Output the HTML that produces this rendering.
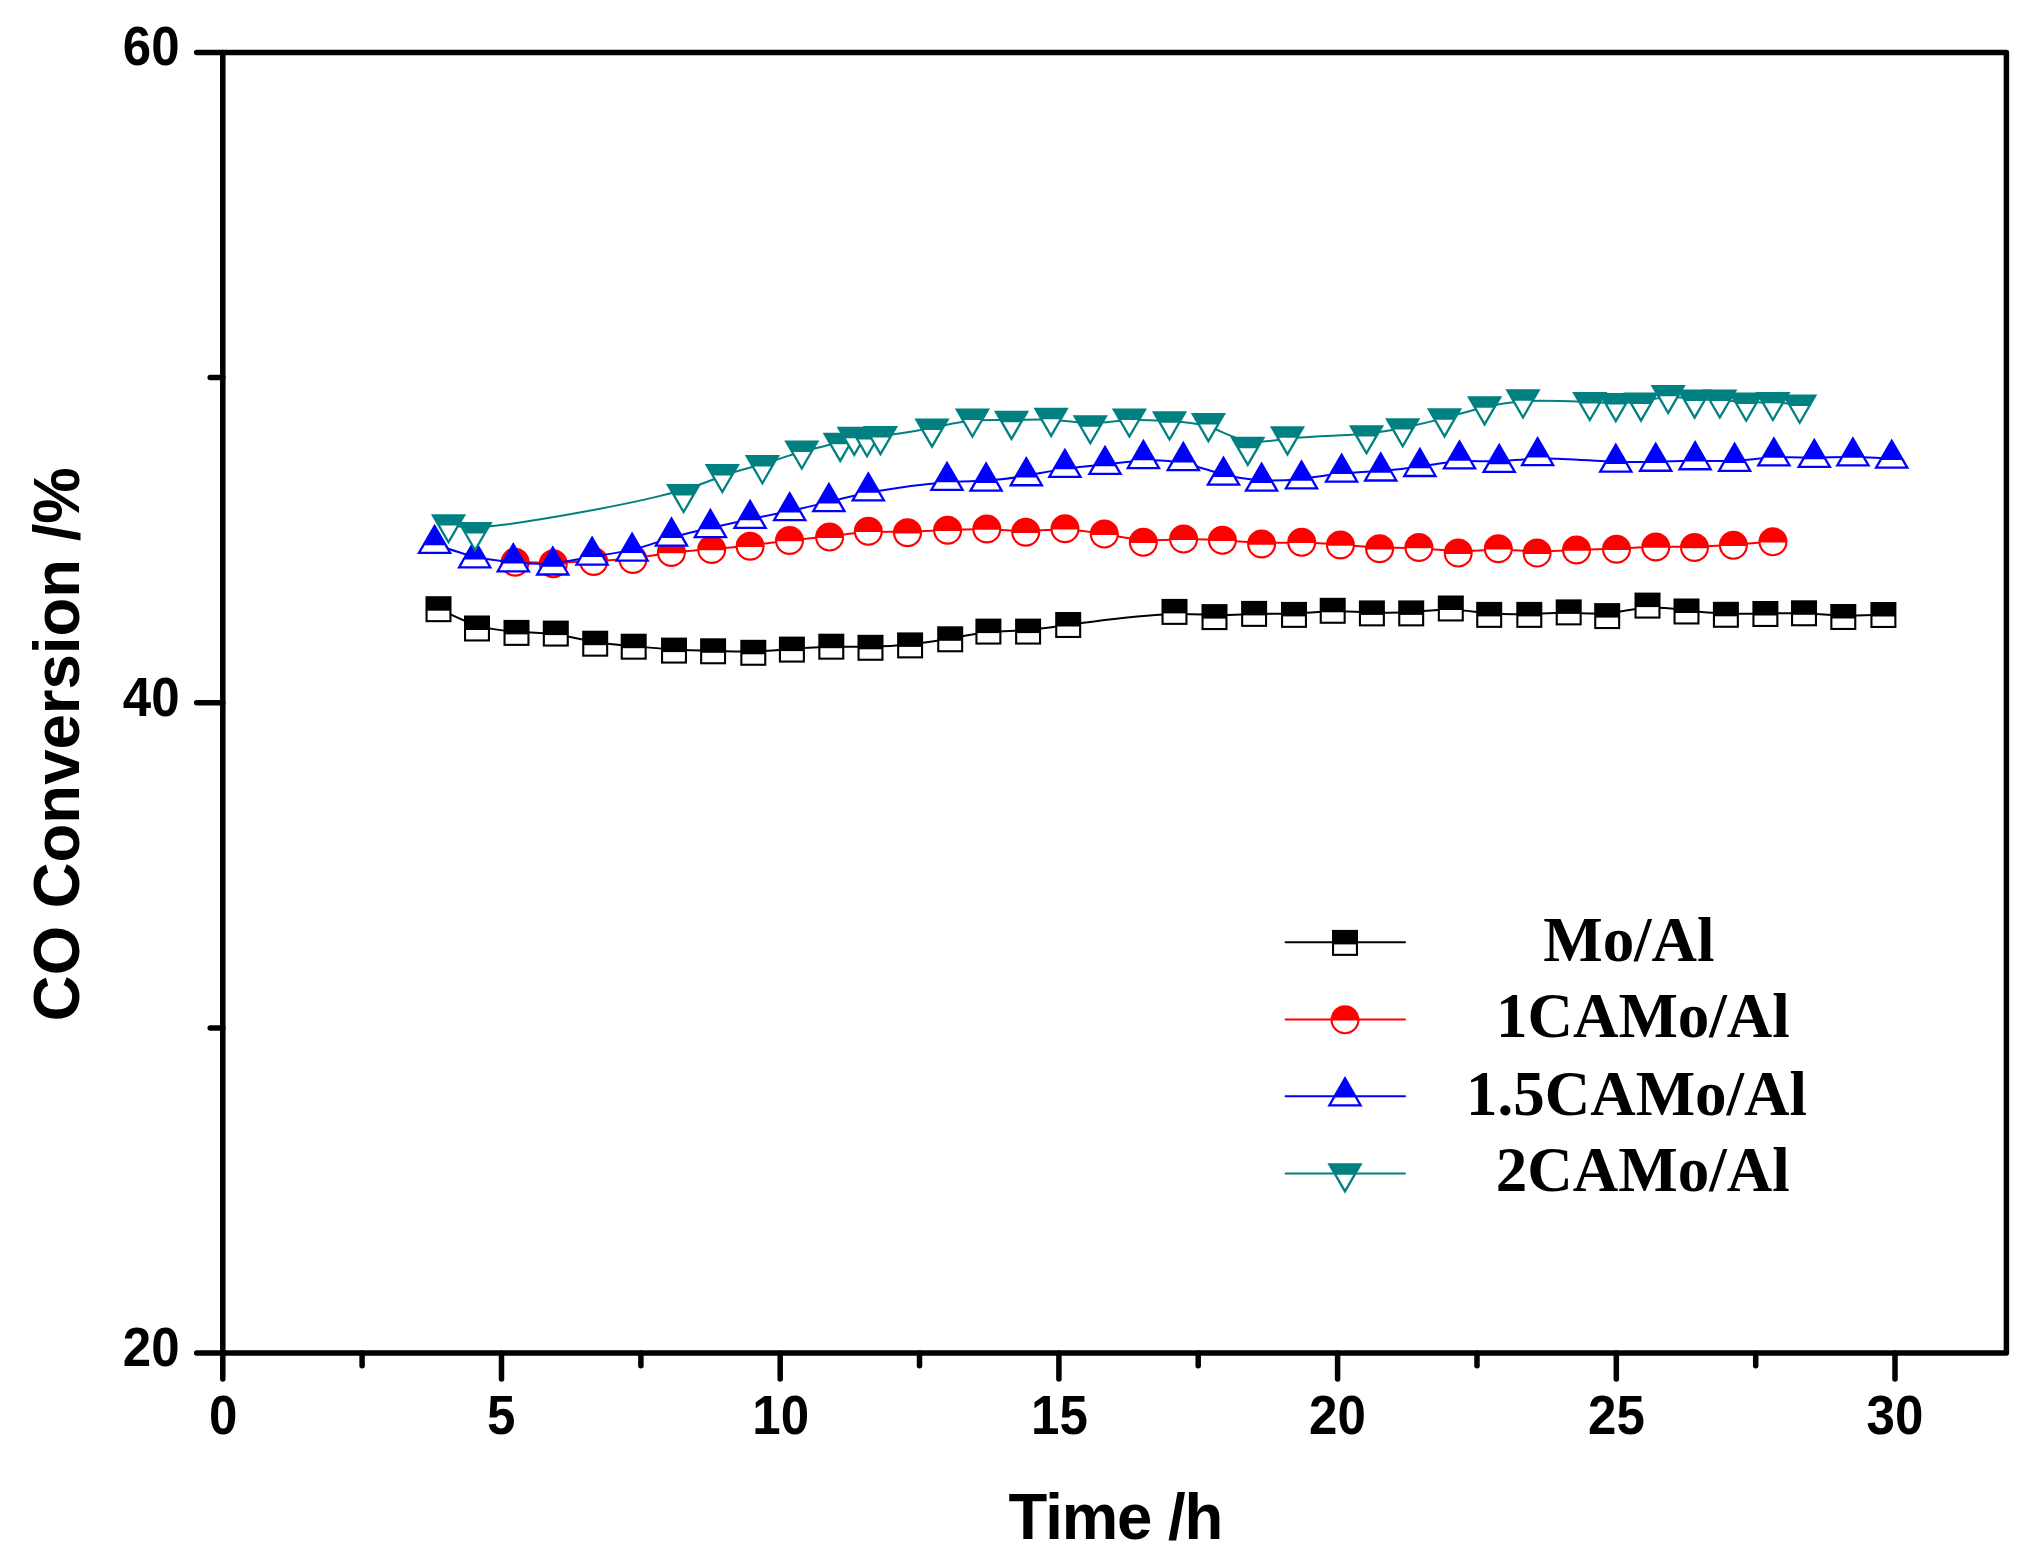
<!DOCTYPE html>
<html lang="en"><head><meta charset="utf-8"><title>CO Conversion vs Time</title>
<style>html,body{margin:0;padding:0;background:#fff}body{width:2031px;height:1560px;overflow:hidden}svg{display:block}</style>
</head><body>
<svg width="2031" height="1560" viewBox="0 0 2031 1560">
<rect width="2031" height="1560" fill="#fff"/>
<g>
<path d="M438.5 608.6 C451.3 615.0 464.2 621.5 477.2 625.4 C490.2 629.4 503.3 630.8 516.5 631.7 C529.6 632.5 542.7 632.8 555.8 634.6 C568.9 636.4 582.1 639.7 595.1 641.9 C608.0 644.1 620.9 645.1 634.0 646.2 C647.1 647.4 660.6 648.7 673.8 649.5 C687.0 650.2 700.1 650.5 713.3 650.8 C726.5 651.2 739.9 651.7 753.0 651.4 C766.2 651.1 779.0 650.1 792.0 649.0 C805.0 648.0 818.2 647.1 831.3 646.8 C844.4 646.5 857.4 646.8 870.6 646.6 C883.7 646.4 896.9 645.6 910.2 644.2 C923.5 642.8 936.8 640.7 949.9 638.4 C962.9 636.1 975.7 633.6 988.6 632.3 C1001.6 631.0 1014.9 631.0 1028.2 629.9 C1041.5 628.8 1054.8 626.6 1079.2 623.3 C1103.6 620.0 1139.1 615.7 1163.5 614.4 C1187.8 613.0 1201.2 614.8 1214.4 615.1 C1227.7 615.4 1240.9 614.4 1254.1 614.0 C1267.4 613.6 1280.7 614.0 1293.8 613.4 C1306.9 612.9 1319.8 611.6 1332.8 611.3 C1345.8 611.1 1358.8 611.9 1371.9 612.4 C1385.0 612.8 1398.1 612.8 1411.2 612.0 C1424.4 611.2 1437.6 609.5 1450.6 609.8 C1463.6 610.0 1476.4 612.2 1489.5 613.2 C1502.6 614.3 1515.9 614.3 1529.2 613.9 C1542.4 613.5 1555.6 612.6 1568.6 612.8 C1581.5 613.0 1594.4 614.3 1607.5 613.1 C1620.6 612.0 1634.1 608.5 1647.3 607.7 C1660.5 607.0 1673.5 608.9 1686.6 610.5 C1699.6 612.0 1712.8 613.1 1725.9 613.5 C1739.1 613.9 1752.2 613.7 1765.2 613.4 C1778.3 613.2 1791.1 612.9 1804.1 613.4 C1817.1 613.9 1830.2 615.2 1843.4 615.4 C1856.7 615.7 1870.0 615.1 1883.4 614.4" fill="none" stroke="#000" stroke-width="2.0" stroke-linejoin="round"/>
<rect x="425.50" y="596.20" width="26.00" height="26.00" fill="#000"/><rect x="427.60" y="610.70" width="21.80" height="9.40" fill="#fff"/>
<rect x="464.00" y="615.50" width="26.00" height="26.00" fill="#000"/><rect x="466.10" y="630.00" width="21.80" height="9.40" fill="#fff"/>
<rect x="503.50" y="619.90" width="26.00" height="26.00" fill="#000"/><rect x="505.60" y="634.40" width="21.80" height="9.40" fill="#fff"/>
<rect x="542.80" y="620.60" width="26.00" height="26.00" fill="#000"/><rect x="544.90" y="635.10" width="21.80" height="9.40" fill="#fff"/>
<rect x="582.20" y="630.70" width="26.00" height="26.00" fill="#000"/><rect x="584.30" y="645.20" width="21.80" height="9.40" fill="#fff"/>
<rect x="620.70" y="633.70" width="26.00" height="26.00" fill="#000"/><rect x="622.80" y="648.20" width="21.80" height="9.40" fill="#fff"/>
<rect x="661.00" y="637.60" width="26.00" height="26.00" fill="#000"/><rect x="663.10" y="652.10" width="21.80" height="9.40" fill="#fff"/>
<rect x="700.10" y="638.30" width="26.00" height="26.00" fill="#000"/><rect x="702.20" y="652.80" width="21.80" height="9.40" fill="#fff"/>
<rect x="740.30" y="639.80" width="26.00" height="26.00" fill="#000"/><rect x="742.40" y="654.30" width="21.80" height="9.40" fill="#fff"/>
<rect x="778.90" y="636.60" width="26.00" height="26.00" fill="#000"/><rect x="781.00" y="651.10" width="21.80" height="9.40" fill="#fff"/>
<rect x="818.30" y="633.70" width="26.00" height="26.00" fill="#000"/><rect x="820.40" y="648.20" width="21.80" height="9.40" fill="#fff"/>
<rect x="857.50" y="634.80" width="26.00" height="26.00" fill="#000"/><rect x="859.60" y="649.30" width="21.80" height="9.40" fill="#fff"/>
<rect x="897.10" y="632.40" width="26.00" height="26.00" fill="#000"/><rect x="899.20" y="646.90" width="21.80" height="9.40" fill="#fff"/>
<rect x="937.20" y="626.30" width="26.00" height="26.00" fill="#000"/><rect x="939.30" y="640.80" width="21.80" height="9.40" fill="#fff"/>
<rect x="975.40" y="618.60" width="26.00" height="26.00" fill="#000"/><rect x="977.50" y="633.10" width="21.80" height="9.40" fill="#fff"/>
<rect x="1015.10" y="618.60" width="26.00" height="26.00" fill="#000"/><rect x="1017.20" y="633.10" width="21.80" height="9.40" fill="#fff"/>
<rect x="1055.20" y="612.00" width="26.00" height="26.00" fill="#000"/><rect x="1057.30" y="626.50" width="21.80" height="9.40" fill="#fff"/>
<rect x="1161.50" y="598.90" width="26.00" height="26.00" fill="#000"/><rect x="1163.60" y="613.40" width="21.80" height="9.40" fill="#fff"/>
<rect x="1201.50" y="604.10" width="26.00" height="26.00" fill="#000"/><rect x="1203.60" y="618.60" width="21.80" height="9.40" fill="#fff"/>
<rect x="1241.10" y="600.90" width="26.00" height="26.00" fill="#000"/><rect x="1243.20" y="615.40" width="21.80" height="9.40" fill="#fff"/>
<rect x="1281.00" y="601.90" width="26.00" height="26.00" fill="#000"/><rect x="1283.10" y="616.40" width="21.80" height="9.40" fill="#fff"/>
<rect x="1319.70" y="597.80" width="26.00" height="26.00" fill="#000"/><rect x="1321.80" y="612.30" width="21.80" height="9.40" fill="#fff"/>
<rect x="1358.90" y="600.40" width="26.00" height="26.00" fill="#000"/><rect x="1361.00" y="614.90" width="21.80" height="9.40" fill="#fff"/>
<rect x="1398.20" y="600.40" width="26.00" height="26.00" fill="#000"/><rect x="1400.30" y="614.90" width="21.80" height="9.40" fill="#fff"/>
<rect x="1437.80" y="595.50" width="26.00" height="26.00" fill="#000"/><rect x="1439.90" y="610.00" width="21.80" height="9.40" fill="#fff"/>
<rect x="1476.20" y="601.90" width="26.00" height="26.00" fill="#000"/><rect x="1478.30" y="616.40" width="21.80" height="9.40" fill="#fff"/>
<rect x="1516.30" y="601.90" width="26.00" height="26.00" fill="#000"/><rect x="1518.40" y="616.40" width="21.80" height="9.40" fill="#fff"/>
<rect x="1555.70" y="599.40" width="26.00" height="26.00" fill="#000"/><rect x="1557.80" y="613.90" width="21.80" height="9.40" fill="#fff"/>
<rect x="1594.20" y="603.10" width="26.00" height="26.00" fill="#000"/><rect x="1596.30" y="617.60" width="21.80" height="9.40" fill="#fff"/>
<rect x="1634.50" y="592.60" width="26.00" height="26.00" fill="#000"/><rect x="1636.60" y="607.10" width="21.80" height="9.40" fill="#fff"/>
<rect x="1673.50" y="598.50" width="26.00" height="26.00" fill="#000"/><rect x="1675.60" y="613.00" width="21.80" height="9.40" fill="#fff"/>
<rect x="1712.90" y="601.80" width="26.00" height="26.00" fill="#000"/><rect x="1715.00" y="616.30" width="21.80" height="9.40" fill="#fff"/>
<rect x="1752.40" y="601.00" width="26.00" height="26.00" fill="#000"/><rect x="1754.50" y="615.50" width="21.80" height="9.40" fill="#fff"/>
<rect x="1791.00" y="600.30" width="26.00" height="26.00" fill="#000"/><rect x="1793.10" y="614.80" width="21.80" height="9.40" fill="#fff"/>
<rect x="1830.30" y="604.00" width="26.00" height="26.00" fill="#000"/><rect x="1832.40" y="618.50" width="21.80" height="9.40" fill="#fff"/>
<rect x="1870.40" y="602.00" width="26.00" height="26.00" fill="#000"/><rect x="1872.50" y="616.50" width="21.80" height="9.40" fill="#fff"/>
</g>
<g>
<path d="M515.1 561.8 C527.8 562.3 540.6 562.9 553.7 562.7 C566.8 562.6 580.2 561.8 593.5 561.1 C606.8 560.4 619.8 559.7 632.8 558.2 C645.7 556.8 658.6 554.4 671.7 552.8 C684.8 551.1 698.3 550.0 711.4 549.0 C724.5 547.9 737.3 546.9 750.3 545.4 C763.2 543.9 776.4 542.0 789.6 540.5 C802.9 539.0 816.2 537.8 829.4 536.3 C842.5 534.8 855.4 532.8 868.4 532.1 C881.4 531.4 894.4 531.8 907.7 531.7 C920.9 531.5 934.2 530.6 947.4 530.0 C960.7 529.4 973.7 529.0 986.8 529.3 C999.8 529.7 1012.7 530.7 1025.8 530.7 C1038.8 530.6 1051.9 529.5 1065.0 529.8 C1078.1 530.1 1091.2 531.9 1104.2 534.2 C1117.3 536.4 1130.3 539.2 1143.5 540.0 C1156.7 540.8 1170.2 539.8 1183.4 539.4 C1196.5 539.1 1209.5 539.5 1222.5 540.3 C1235.5 541.1 1248.5 542.4 1261.7 542.7 C1275.0 543.0 1288.3 542.5 1301.5 542.6 C1314.6 542.8 1327.5 543.7 1340.5 544.8 C1353.5 545.8 1366.5 547.1 1379.6 547.5 C1392.7 547.9 1405.8 547.4 1418.9 548.2 C1432.0 548.9 1445.1 550.8 1458.3 551.0 C1471.6 551.2 1484.9 549.8 1498.1 549.8 C1511.2 549.8 1524.2 551.2 1537.2 551.4 C1550.2 551.6 1563.4 550.6 1576.6 549.9 C1589.8 549.3 1603.2 549.0 1616.4 548.6 C1629.6 548.1 1642.7 547.3 1655.7 547.1 C1668.7 546.8 1681.6 546.9 1694.5 546.6 C1707.5 546.4 1720.4 545.6 1733.5 544.7 C1746.6 543.7 1759.8 542.6 1773.0 541.4" fill="none" stroke="#f00" stroke-width="2.0" stroke-linejoin="round"/>
<circle cx="515.10" cy="562.20" r="14.50" fill="#f00"/><path d="M502.73 563.00 A12.40 12.40 0 0 0 527.47 563.00 Z" fill="#fff"/>
<circle cx="553.30" cy="563.80" r="14.50" fill="#f00"/><path d="M540.93 564.60 A12.40 12.40 0 0 0 565.67 564.60 Z" fill="#fff"/>
<circle cx="593.70" cy="561.40" r="14.50" fill="#f00"/><path d="M581.33 562.20 A12.40 12.40 0 0 0 606.07 562.20 Z" fill="#fff"/>
<circle cx="632.90" cy="559.50" r="14.50" fill="#f00"/><path d="M620.53 560.30 A12.40 12.40 0 0 0 645.27 560.30 Z" fill="#fff"/>
<circle cx="671.40" cy="552.50" r="14.50" fill="#f00"/><path d="M659.03 553.30 A12.40 12.40 0 0 0 683.77 553.30 Z" fill="#fff"/>
<circle cx="711.70" cy="549.40" r="14.50" fill="#f00"/><path d="M699.33 550.20 A12.40 12.40 0 0 0 724.07 550.20 Z" fill="#fff"/>
<circle cx="750.10" cy="546.20" r="14.50" fill="#f00"/><path d="M737.73 547.00 A12.40 12.40 0 0 0 762.47 547.00 Z" fill="#fff"/>
<circle cx="789.50" cy="540.50" r="14.50" fill="#f00"/><path d="M777.13 541.30 A12.40 12.40 0 0 0 801.87 541.30 Z" fill="#fff"/>
<circle cx="829.60" cy="537.10" r="14.50" fill="#f00"/><path d="M817.23 537.90 A12.40 12.40 0 0 0 841.97 537.90 Z" fill="#fff"/>
<circle cx="868.30" cy="531.30" r="14.50" fill="#f00"/><path d="M855.93 532.10 A12.40 12.40 0 0 0 880.67 532.10 Z" fill="#fff"/>
<circle cx="907.50" cy="532.70" r="14.50" fill="#f00"/><path d="M895.13 533.50 A12.40 12.40 0 0 0 919.87 533.50 Z" fill="#fff"/>
<circle cx="947.60" cy="530.20" r="14.50" fill="#f00"/><path d="M935.23 531.00 A12.40 12.40 0 0 0 959.97 531.00 Z" fill="#fff"/>
<circle cx="986.80" cy="529.00" r="14.50" fill="#f00"/><path d="M974.43 529.80 A12.40 12.40 0 0 0 999.17 529.80 Z" fill="#fff"/>
<circle cx="1025.70" cy="532.20" r="14.50" fill="#f00"/><path d="M1013.33 533.00 A12.40 12.40 0 0 0 1038.07 533.00 Z" fill="#fff"/>
<circle cx="1065.00" cy="528.70" r="14.50" fill="#f00"/><path d="M1052.63 529.50 A12.40 12.40 0 0 0 1077.37 529.50 Z" fill="#fff"/>
<circle cx="1104.30" cy="534.10" r="14.50" fill="#f00"/><path d="M1091.93 534.90 A12.40 12.40 0 0 0 1116.67 534.90 Z" fill="#fff"/>
<circle cx="1143.30" cy="542.30" r="14.50" fill="#f00"/><path d="M1130.93 543.10 A12.40 12.40 0 0 0 1155.67 543.10 Z" fill="#fff"/>
<circle cx="1183.60" cy="539.10" r="14.50" fill="#f00"/><path d="M1171.23 539.90 A12.40 12.40 0 0 0 1195.97 539.90 Z" fill="#fff"/>
<circle cx="1222.40" cy="540.30" r="14.50" fill="#f00"/><path d="M1210.03 541.10 A12.40 12.40 0 0 0 1234.77 541.10 Z" fill="#fff"/>
<circle cx="1261.60" cy="544.00" r="14.50" fill="#f00"/><path d="M1249.23 544.80 A12.40 12.40 0 0 0 1273.97 544.80 Z" fill="#fff"/>
<circle cx="1301.70" cy="542.30" r="14.50" fill="#f00"/><path d="M1289.33 543.10 A12.40 12.40 0 0 0 1314.07 543.10 Z" fill="#fff"/>
<circle cx="1340.40" cy="545.00" r="14.50" fill="#f00"/><path d="M1328.03 545.80 A12.40 12.40 0 0 0 1352.77 545.80 Z" fill="#fff"/>
<circle cx="1379.60" cy="548.70" r="14.50" fill="#f00"/><path d="M1367.23 549.50 A12.40 12.40 0 0 0 1391.97 549.50 Z" fill="#fff"/>
<circle cx="1418.90" cy="547.40" r="14.50" fill="#f00"/><path d="M1406.53 548.20 A12.40 12.40 0 0 0 1431.27 548.20 Z" fill="#fff"/>
<circle cx="1458.20" cy="553.10" r="14.50" fill="#f00"/><path d="M1445.83 553.90 A12.40 12.40 0 0 0 1470.57 553.90 Z" fill="#fff"/>
<circle cx="1498.30" cy="548.70" r="14.50" fill="#f00"/><path d="M1485.93 549.50 A12.40 12.40 0 0 0 1510.67 549.50 Z" fill="#fff"/>
<circle cx="1537.10" cy="553.10" r="14.50" fill="#f00"/><path d="M1524.73 553.90 A12.40 12.40 0 0 0 1549.47 553.90 Z" fill="#fff"/>
<circle cx="1576.50" cy="549.90" r="14.50" fill="#f00"/><path d="M1564.13 550.70 A12.40 12.40 0 0 0 1588.87 550.70 Z" fill="#fff"/>
<circle cx="1616.50" cy="549.20" r="14.50" fill="#f00"/><path d="M1604.13 550.00 A12.40 12.40 0 0 0 1628.87 550.00 Z" fill="#fff"/>
<circle cx="1655.80" cy="547.00" r="14.50" fill="#f00"/><path d="M1643.43 547.80 A12.40 12.40 0 0 0 1668.17 547.80 Z" fill="#fff"/>
<circle cx="1694.50" cy="547.50" r="14.50" fill="#f00"/><path d="M1682.13 548.30 A12.40 12.40 0 0 0 1706.87 548.30 Z" fill="#fff"/>
<circle cx="1733.40" cy="545.30" r="14.50" fill="#f00"/><path d="M1721.03 546.10 A12.40 12.40 0 0 0 1745.77 546.10 Z" fill="#fff"/>
<circle cx="1773.00" cy="541.80" r="14.50" fill="#f00"/><path d="M1760.63 542.60 A12.40 12.40 0 0 0 1785.37 542.60 Z" fill="#fff"/>
</g>
<g>
<path d="M434.6 543.9 C448.0 548.7 461.3 553.5 474.4 556.6 C487.6 559.6 500.4 561.0 513.4 562.2 C526.5 563.4 539.6 564.4 552.8 563.3 C565.9 562.2 579.0 558.9 592.2 556.6 C605.4 554.3 618.8 553.0 632.0 549.9 C645.2 546.7 658.4 541.6 671.4 537.7 C684.5 533.8 697.4 530.9 710.5 528.0 C723.6 525.0 736.9 522.0 750.1 519.2 C763.3 516.4 776.5 513.8 789.6 511.0 C802.8 508.2 815.8 505.2 828.9 501.9 C842.0 498.6 855.2 495.0 874.8 491.5 C894.5 488.0 920.8 484.5 940.4 482.8 C960.0 481.2 973.1 481.4 986.3 480.6 C999.5 479.8 1012.9 478.1 1026.0 475.8 C1039.2 473.5 1052.0 470.7 1065.2 468.8 C1078.3 466.9 1091.6 466.0 1104.7 464.5 C1117.8 463.0 1130.6 461.0 1143.7 460.4 C1156.7 459.8 1170.0 460.4 1183.4 463.2 C1196.7 466.0 1210.1 470.8 1223.1 474.3 C1236.2 477.7 1248.9 479.7 1261.9 480.3 C1274.9 481.0 1288.2 480.2 1301.5 478.7 C1314.9 477.2 1328.2 475.0 1341.4 473.6 C1354.6 472.3 1367.7 471.9 1380.7 471.0 C1393.8 470.0 1406.8 468.5 1420.0 466.5 C1433.1 464.5 1446.3 462.0 1459.5 461.3 C1472.7 460.6 1486.0 461.8 1499.0 461.2 C1512.0 460.7 1524.8 458.5 1544.2 458.4 C1563.7 458.4 1589.7 460.5 1609.4 461.4 C1629.1 462.4 1642.4 462.1 1655.6 461.7 C1668.8 461.3 1682.0 460.8 1695.1 460.8 C1708.3 460.8 1721.4 461.3 1734.6 460.7 C1747.7 460.0 1760.8 458.2 1774.1 457.6 C1787.4 456.9 1800.8 457.5 1814.0 457.5 C1827.2 457.5 1840.0 457.0 1852.9 457.1 C1865.8 457.2 1878.8 457.9 1891.7 458.7" fill="none" stroke="#00f" stroke-width="2.0" stroke-linejoin="round"/>
<path d="M434.60 523.65 L452.20 554.05 L417.00 554.05 Z" fill="#00f"/><path d="M424.77 545.22 L444.43 545.22 L448.21 551.75 L420.99 551.75 Z" fill="#fff"/>
<path d="M474.70 538.05 L492.30 568.45 L457.10 568.45 Z" fill="#00f"/><path d="M464.87 559.62 L484.53 559.62 L488.31 566.15 L461.09 566.15 Z" fill="#fff"/>
<path d="M513.30 542.05 L530.90 572.45 L495.70 572.45 Z" fill="#00f"/><path d="M503.47 563.62 L523.13 563.62 L526.91 570.15 L499.69 570.15 Z" fill="#fff"/>
<path d="M552.80 545.25 L570.40 575.65 L535.20 575.65 Z" fill="#00f"/><path d="M542.97 566.82 L562.63 566.82 L566.41 573.35 L539.19 573.35 Z" fill="#fff"/>
<path d="M592.10 535.40 L609.70 565.80 L574.50 565.80 Z" fill="#00f"/><path d="M582.27 556.97 L601.93 556.97 L605.71 563.50 L578.49 563.50 Z" fill="#fff"/>
<path d="M632.10 531.45 L649.70 561.85 L614.50 561.85 Z" fill="#00f"/><path d="M622.27 553.02 L641.93 553.02 L645.71 559.55 L618.49 559.55 Z" fill="#fff"/>
<path d="M671.50 516.35 L689.10 546.75 L653.90 546.75 Z" fill="#00f"/><path d="M661.67 537.92 L681.33 537.92 L685.11 544.45 L657.89 544.45 Z" fill="#fff"/>
<path d="M710.40 507.80 L728.00 538.20 L692.80 538.20 Z" fill="#00f"/><path d="M700.57 529.37 L720.23 529.37 L724.01 535.90 L696.79 535.90 Z" fill="#fff"/>
<path d="M750.10 498.70 L767.70 529.10 L732.50 529.10 Z" fill="#00f"/><path d="M740.27 520.27 L759.93 520.27 L763.71 526.80 L736.49 526.80 Z" fill="#fff"/>
<path d="M789.70 490.95 L807.30 521.35 L772.10 521.35 Z" fill="#00f"/><path d="M779.87 512.52 L799.53 512.52 L803.31 519.05 L776.09 519.05 Z" fill="#fff"/>
<path d="M828.90 481.85 L846.50 512.25 L811.30 512.25 Z" fill="#00f"/><path d="M819.07 503.42 L838.73 503.42 L842.51 509.95 L815.29 509.95 Z" fill="#fff"/>
<path d="M868.30 471.20 L885.90 501.60 L850.70 501.60 Z" fill="#00f"/><path d="M858.47 492.77 L878.13 492.77 L881.91 499.30 L854.69 499.30 Z" fill="#fff"/>
<path d="M947.00 460.70 L964.60 491.10 L929.40 491.10 Z" fill="#00f"/><path d="M937.17 482.27 L956.83 482.27 L960.61 488.80 L933.39 488.80 Z" fill="#fff"/>
<path d="M986.10 461.35 L1003.70 491.75 L968.50 491.75 Z" fill="#00f"/><path d="M976.27 482.92 L995.93 482.92 L999.71 489.45 L972.49 489.45 Z" fill="#fff"/>
<path d="M1026.30 456.00 L1043.90 486.40 L1008.70 486.40 Z" fill="#00f"/><path d="M1016.47 477.57 L1036.13 477.57 L1039.91 484.10 L1012.69 484.10 Z" fill="#fff"/>
<path d="M1064.90 447.65 L1082.50 478.05 L1047.30 478.05 Z" fill="#00f"/><path d="M1055.07 469.22 L1074.73 469.22 L1078.51 475.75 L1051.29 475.75 Z" fill="#fff"/>
<path d="M1105.00 444.70 L1122.60 475.10 L1087.40 475.10 Z" fill="#00f"/><path d="M1095.17 466.27 L1114.83 466.27 L1118.61 472.80 L1091.39 472.80 Z" fill="#fff"/>
<path d="M1143.40 438.80 L1161.00 469.20 L1125.80 469.20 Z" fill="#00f"/><path d="M1133.57 460.37 L1153.23 460.37 L1157.01 466.90 L1129.79 466.90 Z" fill="#fff"/>
<path d="M1183.30 440.85 L1200.90 471.25 L1165.70 471.25 Z" fill="#00f"/><path d="M1173.47 462.42 L1193.13 462.42 L1196.91 468.95 L1169.69 468.95 Z" fill="#fff"/>
<path d="M1223.50 455.45 L1241.10 485.85 L1205.90 485.85 Z" fill="#00f"/><path d="M1213.67 477.02 L1233.33 477.02 L1237.11 483.55 L1209.89 483.55 Z" fill="#fff"/>
<path d="M1261.60 461.45 L1279.20 491.85 L1244.00 491.85 Z" fill="#00f"/><path d="M1251.77 483.02 L1271.43 483.02 L1275.21 489.55 L1247.99 489.55 Z" fill="#fff"/>
<path d="M1301.50 459.20 L1319.10 489.60 L1283.90 489.60 Z" fill="#00f"/><path d="M1291.67 480.77 L1311.33 480.77 L1315.11 487.30 L1287.89 487.30 Z" fill="#fff"/>
<path d="M1341.60 452.45 L1359.20 482.85 L1324.00 482.85 Z" fill="#00f"/><path d="M1331.77 474.02 L1351.43 474.02 L1355.21 480.55 L1327.99 480.55 Z" fill="#fff"/>
<path d="M1380.70 451.25 L1398.30 481.65 L1363.10 481.65 Z" fill="#00f"/><path d="M1370.87 472.82 L1390.53 472.82 L1394.31 479.35 L1367.09 479.35 Z" fill="#fff"/>
<path d="M1419.90 446.75 L1437.50 477.15 L1402.30 477.15 Z" fill="#00f"/><path d="M1410.07 468.32 L1429.73 468.32 L1433.51 474.85 L1406.29 474.85 Z" fill="#fff"/>
<path d="M1459.50 439.15 L1477.10 469.55 L1441.90 469.55 Z" fill="#00f"/><path d="M1449.67 460.72 L1469.33 460.72 L1473.11 467.25 L1445.89 467.25 Z" fill="#fff"/>
<path d="M1499.20 442.70 L1516.80 473.10 L1481.60 473.10 Z" fill="#00f"/><path d="M1489.37 464.27 L1509.03 464.27 L1512.81 470.80 L1485.59 470.80 Z" fill="#fff"/>
<path d="M1537.60 435.95 L1555.20 466.35 L1520.00 466.35 Z" fill="#00f"/><path d="M1527.77 457.52 L1547.43 457.52 L1551.21 464.05 L1523.99 464.05 Z" fill="#fff"/>
<path d="M1615.80 442.40 L1633.40 472.80 L1598.20 472.80 Z" fill="#00f"/><path d="M1605.97 463.97 L1625.63 463.97 L1629.41 470.50 L1602.19 470.50 Z" fill="#fff"/>
<path d="M1655.70 441.50 L1673.30 471.90 L1638.10 471.90 Z" fill="#00f"/><path d="M1645.87 463.07 L1665.53 463.07 L1669.31 469.60 L1642.09 469.60 Z" fill="#fff"/>
<path d="M1695.10 440.00 L1712.70 470.40 L1677.50 470.40 Z" fill="#00f"/><path d="M1685.27 461.57 L1704.93 461.57 L1708.71 468.10 L1681.49 468.10 Z" fill="#fff"/>
<path d="M1734.60 441.55 L1752.20 471.95 L1717.00 471.95 Z" fill="#00f"/><path d="M1724.77 463.12 L1744.43 463.12 L1748.21 469.65 L1720.99 469.65 Z" fill="#fff"/>
<path d="M1773.90 436.15 L1791.50 466.55 L1756.30 466.55 Z" fill="#00f"/><path d="M1764.07 457.72 L1783.73 457.72 L1787.51 464.25 L1760.29 464.25 Z" fill="#fff"/>
<path d="M1814.30 437.70 L1831.90 468.10 L1796.70 468.10 Z" fill="#00f"/><path d="M1804.47 459.27 L1824.13 459.27 L1827.91 465.80 L1800.69 465.80 Z" fill="#fff"/>
<path d="M1852.90 436.20 L1870.50 466.60 L1835.30 466.60 Z" fill="#00f"/><path d="M1843.07 457.77 L1862.73 457.77 L1866.51 464.30 L1839.29 464.30 Z" fill="#fff"/>
<path d="M1891.70 438.40 L1909.30 468.80 L1874.10 468.80 Z" fill="#00f"/><path d="M1881.87 459.97 L1901.53 459.97 L1905.31 466.50 L1878.09 466.50 Z" fill="#fff"/>
</g>
<g>
<path d="M448.5 524.3 C457.4 526.9 466.2 529.5 505.4 524.5 C544.6 519.4 614.1 506.8 655.3 497.1 C696.5 487.4 709.4 480.8 722.5 475.9 C735.7 471.1 749.0 468.2 762.3 464.3 C775.5 460.3 788.7 455.5 801.6 451.8 C814.6 448.0 827.4 445.5 836.1 443.2 C844.9 440.9 849.5 438.9 854.0 438.1 C858.5 437.4 862.7 437.8 867.1 437.7 C871.5 437.5 876.0 436.9 886.8 435.3 C897.7 433.7 914.8 431.1 930.1 428.2 C945.5 425.3 958.9 421.9 972.2 420.6 C985.4 419.3 998.5 420.1 1011.6 420.0 C1024.7 419.9 1037.9 418.9 1051.0 419.7 C1064.2 420.4 1077.2 422.9 1090.3 423.0 C1103.3 423.1 1116.4 420.8 1129.6 420.2 C1142.8 419.5 1156.1 420.5 1169.3 421.3 C1182.5 422.0 1195.4 422.6 1208.5 426.8 C1221.5 431.0 1234.7 439.0 1247.9 441.2 C1261.0 443.4 1274.3 439.9 1294.0 438.0 C1313.8 436.1 1340.2 435.7 1359.4 434.3 C1378.6 432.9 1390.6 430.6 1403.6 427.8 C1416.6 425.0 1430.6 421.7 1444.2 418.1 C1457.9 414.4 1471.2 410.4 1484.3 407.2 C1497.4 404.1 1510.2 401.8 1527.7 401.1 C1545.3 400.3 1567.5 401.2 1583.0 401.8 C1598.5 402.4 1607.1 402.8 1615.7 402.9 C1624.2 403.0 1632.6 402.8 1641.3 401.5 C1650.1 400.1 1659.1 397.6 1668.1 397.1 C1677.0 396.6 1685.8 398.1 1694.4 398.9 C1703.0 399.7 1711.4 399.6 1720.0 400.1 C1728.6 400.6 1737.4 401.7 1746.2 402.1 C1755.1 402.5 1764.0 402.3 1772.9 402.6 C1781.8 402.9 1790.8 403.8 1799.7 404.7" fill="none" stroke="#008080" stroke-width="2.0" stroke-linejoin="round"/>
<path d="M430.90 514.15 L466.10 514.15 L448.50 544.55 Z" fill="#008080"/><path d="M440.18 525.58 L456.82 525.58 L448.50 539.95 Z" fill="#fff"/>
<path d="M457.50 521.95 L492.70 521.95 L475.10 552.35 Z" fill="#008080"/><path d="M466.78 533.38 L483.42 533.38 L475.10 547.75 Z" fill="#fff"/>
<path d="M666.00 483.95 L701.20 483.95 L683.60 514.35 Z" fill="#008080"/><path d="M675.28 495.38 L691.92 495.38 L683.60 509.75 Z" fill="#fff"/>
<path d="M704.70 463.95 L739.90 463.95 L722.30 494.35 Z" fill="#008080"/><path d="M713.98 475.38 L730.62 475.38 L722.30 489.75 Z" fill="#fff"/>
<path d="M744.80 455.10 L780.00 455.10 L762.40 485.50 Z" fill="#008080"/><path d="M754.08 466.53 L770.72 466.53 L762.40 480.90 Z" fill="#fff"/>
<path d="M784.20 440.45 L819.40 440.45 L801.80 470.85 Z" fill="#008080"/><path d="M793.48 451.88 L810.12 451.88 L801.80 466.25 Z" fill="#fff"/>
<path d="M822.60 432.80 L857.80 432.80 L840.20 463.20 Z" fill="#008080"/><path d="M831.88 444.23 L848.52 444.23 L840.20 458.60 Z" fill="#fff"/>
<path d="M836.60 426.80 L871.80 426.80 L854.20 457.20 Z" fill="#008080"/><path d="M845.88 438.23 L862.52 438.23 L854.20 452.60 Z" fill="#fff"/>
<path d="M849.40 428.10 L884.60 428.10 L867.00 458.50 Z" fill="#008080"/><path d="M858.68 439.53 L875.32 439.53 L867.00 453.90 Z" fill="#fff"/>
<path d="M862.90 426.05 L898.10 426.05 L880.50 456.45 Z" fill="#008080"/><path d="M872.18 437.48 L888.82 437.48 L880.50 451.85 Z" fill="#fff"/>
<path d="M914.40 418.50 L949.60 418.50 L932.00 448.90 Z" fill="#008080"/><path d="M923.68 429.93 L940.32 429.93 L932.00 444.30 Z" fill="#fff"/>
<path d="M954.80 408.45 L990.00 408.45 L972.40 438.85 Z" fill="#008080"/><path d="M964.08 419.88 L980.72 419.88 L972.40 434.25 Z" fill="#fff"/>
<path d="M993.90 410.75 L1029.10 410.75 L1011.50 441.15 Z" fill="#008080"/><path d="M1003.18 422.18 L1019.82 422.18 L1011.50 436.55 Z" fill="#fff"/>
<path d="M1033.50 407.80 L1068.70 407.80 L1051.10 438.20 Z" fill="#008080"/><path d="M1042.78 419.23 L1059.42 419.23 L1051.10 433.60 Z" fill="#fff"/>
<path d="M1072.70 415.20 L1107.90 415.20 L1090.30 445.60 Z" fill="#008080"/><path d="M1081.98 426.63 L1098.62 426.63 L1090.30 441.00 Z" fill="#fff"/>
<path d="M1111.80 408.45 L1147.00 408.45 L1129.40 438.85 Z" fill="#008080"/><path d="M1121.08 419.88 L1137.72 419.88 L1129.40 434.25 Z" fill="#fff"/>
<path d="M1151.90 411.35 L1187.10 411.35 L1169.50 441.75 Z" fill="#008080"/><path d="M1161.18 422.78 L1177.82 422.78 L1169.50 437.15 Z" fill="#fff"/>
<path d="M1190.80 413.00 L1226.00 413.00 L1208.40 443.40 Z" fill="#008080"/><path d="M1200.08 424.43 L1216.72 424.43 L1208.40 438.80 Z" fill="#fff"/>
<path d="M1230.20 436.75 L1265.40 436.75 L1247.80 467.15 Z" fill="#008080"/><path d="M1239.48 448.18 L1256.12 448.18 L1247.80 462.55 Z" fill="#fff"/>
<path d="M1269.90 426.30 L1305.10 426.30 L1287.50 456.70 Z" fill="#008080"/><path d="M1279.18 437.73 L1295.82 437.73 L1287.50 452.10 Z" fill="#fff"/>
<path d="M1348.90 425.15 L1384.10 425.15 L1366.50 455.55 Z" fill="#008080"/><path d="M1358.18 436.58 L1374.82 436.58 L1366.50 450.95 Z" fill="#fff"/>
<path d="M1385.10 418.15 L1420.30 418.15 L1402.70 448.55 Z" fill="#008080"/><path d="M1394.38 429.58 L1411.02 429.58 L1402.70 443.95 Z" fill="#fff"/>
<path d="M1426.90 408.30 L1462.10 408.30 L1444.50 438.70 Z" fill="#008080"/><path d="M1436.18 419.73 L1452.82 419.73 L1444.50 434.10 Z" fill="#fff"/>
<path d="M1467.00 396.25 L1502.20 396.25 L1484.60 426.65 Z" fill="#008080"/><path d="M1476.28 407.68 L1492.92 407.68 L1484.60 422.05 Z" fill="#fff"/>
<path d="M1505.40 389.35 L1540.60 389.35 L1523.00 419.75 Z" fill="#008080"/><path d="M1514.68 400.78 L1531.32 400.78 L1523.00 415.15 Z" fill="#fff"/>
<path d="M1572.20 391.95 L1607.40 391.95 L1589.80 422.35 Z" fill="#008080"/><path d="M1581.48 403.38 L1598.12 403.38 L1589.80 417.75 Z" fill="#fff"/>
<path d="M1598.20 393.05 L1633.40 393.05 L1615.80 423.45 Z" fill="#008080"/><path d="M1607.48 404.48 L1624.12 404.48 L1615.80 418.85 Z" fill="#fff"/>
<path d="M1623.40 392.50 L1658.60 392.50 L1641.00 422.90 Z" fill="#008080"/><path d="M1632.68 403.93 L1649.32 403.93 L1641.00 418.30 Z" fill="#fff"/>
<path d="M1650.60 384.90 L1685.80 384.90 L1668.20 415.30 Z" fill="#008080"/><path d="M1659.88 396.33 L1676.52 396.33 L1668.20 410.70 Z" fill="#fff"/>
<path d="M1677.00 389.55 L1712.20 389.55 L1694.60 419.95 Z" fill="#008080"/><path d="M1686.28 400.98 L1702.92 400.98 L1694.60 415.35 Z" fill="#fff"/>
<path d="M1702.20 389.45 L1737.40 389.45 L1719.80 419.85 Z" fill="#008080"/><path d="M1711.48 400.88 L1728.12 400.88 L1719.80 415.25 Z" fill="#fff"/>
<path d="M1728.60 392.60 L1763.80 392.60 L1746.20 423.00 Z" fill="#008080"/><path d="M1737.88 404.03 L1754.52 404.03 L1746.20 418.40 Z" fill="#fff"/>
<path d="M1755.30 391.90 L1790.50 391.90 L1772.90 422.30 Z" fill="#008080"/><path d="M1764.58 403.33 L1781.22 403.33 L1772.90 417.70 Z" fill="#fff"/>
<path d="M1782.10 394.60 L1817.30 394.60 L1799.70 425.00 Z" fill="#008080"/><path d="M1791.38 406.03 L1808.02 406.03 L1799.70 420.40 Z" fill="#fff"/>
</g>
<g stroke="#000" stroke-width="5.5" stroke-linecap="round" fill="none">
<path d="M222.8 52.5 H2006.4 V1353.0 H222.8 Z" stroke-linejoin="round"/>
<path d="M222.8 1353.0 V1379.0"/>
<path d="M501.5 1353.0 V1379.0"/>
<path d="M780.2 1353.0 V1379.0"/>
<path d="M1058.9 1353.0 V1379.0"/>
<path d="M1337.6 1353.0 V1379.0"/>
<path d="M1616.3 1353.0 V1379.0"/>
<path d="M1895.0 1353.0 V1379.0"/>
<path d="M362.1 1353.0 V1365.8"/>
<path d="M640.9 1353.0 V1365.8"/>
<path d="M919.5 1353.0 V1365.8"/>
<path d="M1198.2 1353.0 V1365.8"/>
<path d="M1477.0 1353.0 V1365.8"/>
<path d="M1755.7 1353.0 V1365.8"/>
<path d="M222.8 1353.0 H196.7"/>
<path d="M222.8 702.8 H196.7"/>
<path d="M222.8 52.5 H196.7"/>
<path d="M222.8 1027.9 H210.2"/>
<path d="M222.8 377.6 H210.2"/>
</g>
<g font-family="'Liberation Sans', Arial, sans-serif" font-weight="bold" fill="#000">
<g font-size="54.6" text-anchor="middle">
<text transform="translate(223.3 1434.4) scale(0.935 1)">0</text>
<text transform="translate(501.2 1434.4) scale(0.935 1)">5</text>
<text transform="translate(780.7 1434.4) scale(0.935 1)">10</text>
<text transform="translate(1059.4 1434.4) scale(0.935 1)">15</text>
<text transform="translate(1337.5 1434.4) scale(0.935 1)">20</text>
<text transform="translate(1616.4 1434.4) scale(0.935 1)">25</text>
<text transform="translate(1894.9 1434.4) scale(0.935 1)">30</text>
</g>
<g font-size="54.6" text-anchor="end">
<text transform="translate(179.6 1365.8) scale(0.935 1)">20</text>
<text transform="translate(179.6 715.5) scale(0.935 1)">40</text>
<text transform="translate(179.6 65.3) scale(0.935 1)">60</text>
</g>
<text transform="translate(1115.4 1538.7) scale(0.977 1)" font-size="65" letter-spacing="-1.1" text-anchor="middle">Time /h</text>
<text transform="translate(78.8 744.2) rotate(-90) scale(0.977 1)" font-size="65" letter-spacing="0" text-anchor="middle">CO Conversion /%</text>
</g>
<g font-family="'Liberation Serif', 'Times New Roman', serif" font-weight="bold" font-size="64.0" fill="#000">
<path d="M1285.6 942.3 H1405.0" stroke="#000" stroke-width="2" stroke-linecap="round"/>
<rect x="1332.00" y="929.90" width="26.00" height="26.00" fill="#000"/><rect x="1334.10" y="944.40" width="21.80" height="9.40" fill="#fff"/>
<text transform="translate(1543.2 960.8) scale(0.984 1)">Mo/Al</text>
<path d="M1285.6 1019.4 H1405.0" stroke="#f00" stroke-width="2" stroke-linecap="round"/>
<circle cx="1345.00" cy="1019.80" r="14.50" fill="#f00"/><path d="M1332.63 1020.60 A12.40 12.40 0 0 0 1357.37 1020.60 Z" fill="#fff"/>
<text transform="translate(1496.0 1037.4) scale(0.984 1)">1CAMo/Al</text>
<path d="M1285.6 1096.3 H1405.0" stroke="#00f" stroke-width="2" stroke-linecap="round"/>
<path d="M1345.00 1076.03 L1362.60 1106.43 L1327.40 1106.43 Z" fill="#00f"/><path d="M1335.17 1097.60 L1354.83 1097.60 L1358.61 1104.13 L1331.39 1104.13 Z" fill="#fff"/>
<text transform="translate(1466.0 1114.7) scale(0.984 1)">1.5CAMo/Al</text>
<path d="M1285.6 1173.4 H1405.0" stroke="#008080" stroke-width="2" stroke-linecap="round"/>
<path d="M1327.40 1163.27 L1362.60 1163.27 L1345.00 1193.67 Z" fill="#008080"/><path d="M1336.68 1174.70 L1353.32 1174.70 L1345.00 1189.07 Z" fill="#fff"/>
<text transform="translate(1495.8 1191.4) scale(0.984 1)">2CAMo/Al</text>
</g>
</svg>
</body></html>
